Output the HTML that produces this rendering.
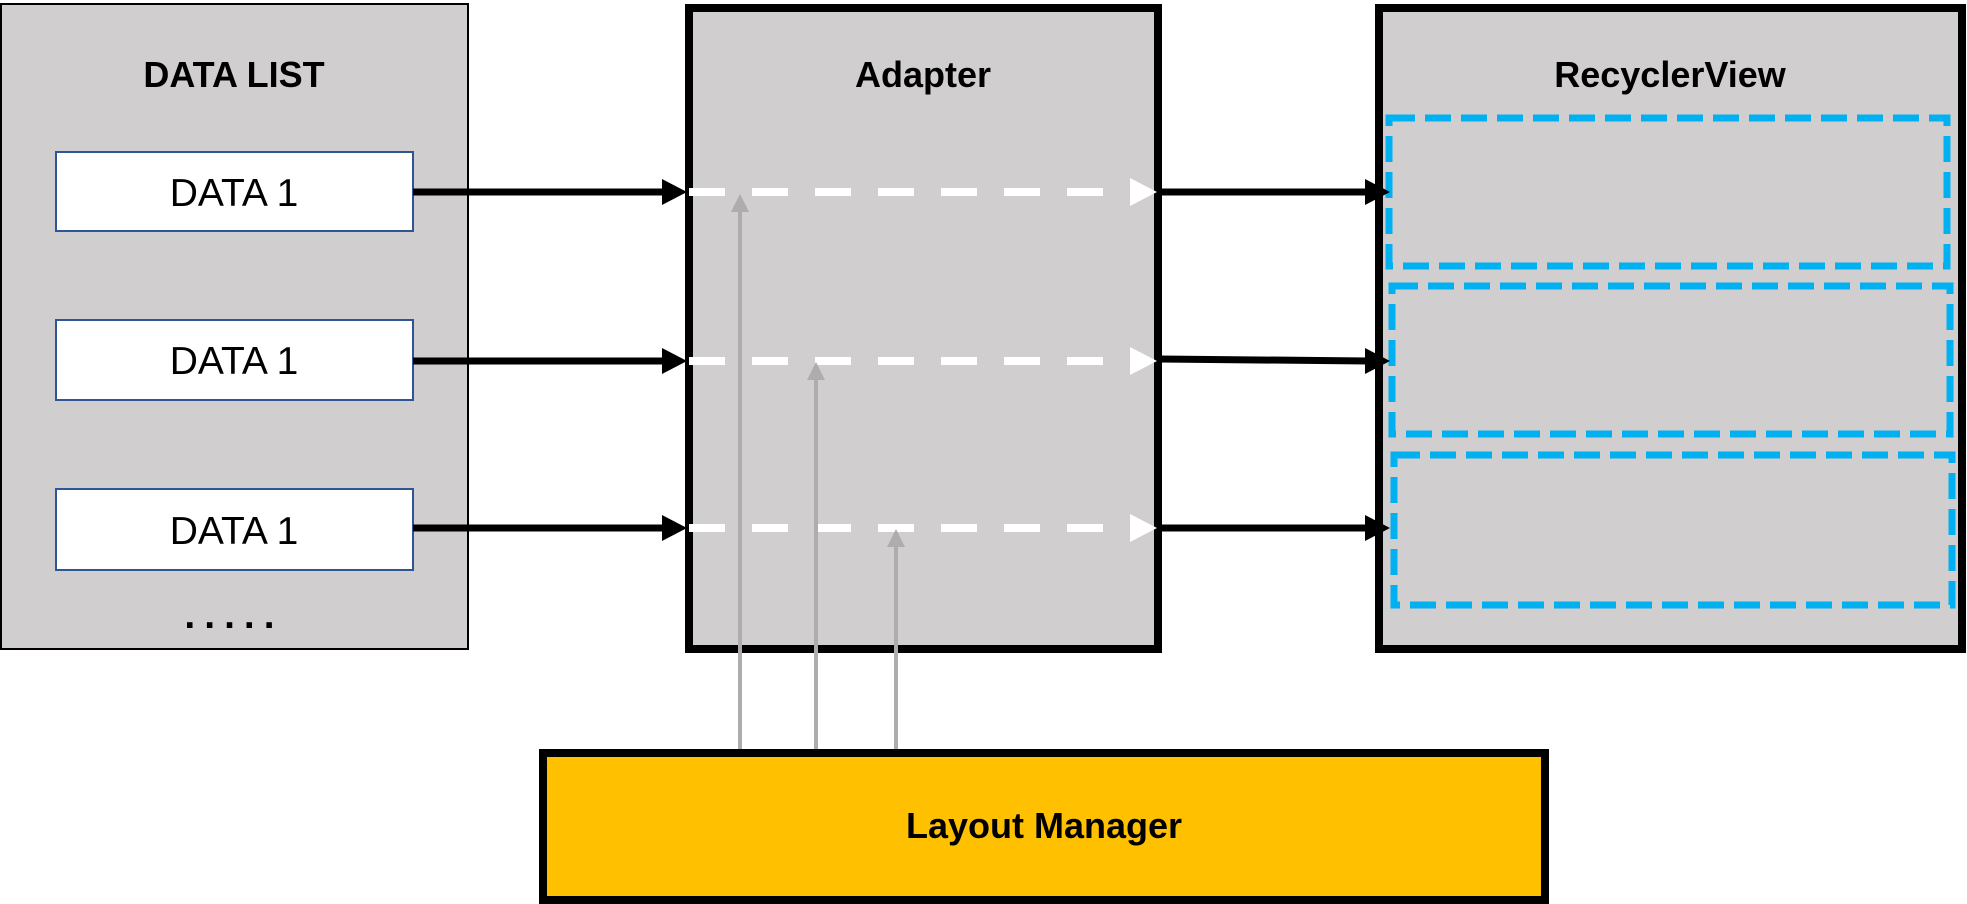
<!DOCTYPE html>
<html><head><meta charset="utf-8"><style>
html,body{margin:0;padding:0;background:#fff;}
body{width:1967px;height:904px;overflow:hidden;}
</style></head><body>
<svg width="1967" height="904" viewBox="0 0 1967 904" xmlns="http://www.w3.org/2000/svg" style="display:block">
<!-- DATA LIST -->
<rect x="1" y="4" width="467" height="645" fill="#D0CECE" stroke="#000" stroke-width="2"/>
<text x="234" y="87" font-family="Liberation Sans, sans-serif" font-weight="bold" font-size="36" text-anchor="middle">DATA LIST</text>
<g font-family="Liberation Sans, sans-serif" font-size="39" text-anchor="middle">
<rect x="56" y="152" width="357" height="79" fill="#fff" stroke="#2F5597" stroke-width="2"/>
<text x="234" y="206">DATA 1</text>
<rect x="56" y="320" width="357" height="80" fill="#fff" stroke="#2F5597" stroke-width="2"/>
<text x="234" y="374">DATA 1</text>
<rect x="56" y="489" width="357" height="81" fill="#fff" stroke="#2F5597" stroke-width="2"/>
<text x="234" y="544">DATA 1</text>
<text x="234" y="628" letter-spacing="9" font-weight="bold">.....</text>
</g>
<!-- Adapter -->
<rect x="689" y="8" width="469" height="641" fill="#D0CECE" stroke="#000" stroke-width="8"/>
<text x="923" y="87" font-family="Liberation Sans, sans-serif" font-weight="bold" font-size="36" text-anchor="middle">Adapter</text>
<!-- RecyclerView -->
<rect x="1379" y="8" width="583" height="641" fill="#D0CECE" stroke="#000" stroke-width="8"/>
<text x="1670" y="87" font-family="Liberation Sans, sans-serif" font-weight="bold" font-size="36" text-anchor="middle">RecyclerView</text>
<g fill="none" stroke="#00B0F0" stroke-width="7" stroke-dasharray="26,10">
<rect x="1389" y="118" width="558" height="148"/>
<rect x="1392" y="286" width="558" height="148"/>
<rect x="1394" y="455" width="558" height="150"/>
</g>
<!-- Layout Manager -->
<rect x="543" y="753" width="1002" height="147" fill="#FFC000" stroke="#000" stroke-width="8"/>
<text x="1044" y="838" font-family="Liberation Sans, sans-serif" font-weight="bold" font-size="36" text-anchor="middle">Layout Manager</text>
<g stroke="#000" stroke-width="7">
<line x1="413" y1="192" x2="665" y2="192"/>
<line x1="413" y1="361" x2="665" y2="361"/>
<line x1="413" y1="528" x2="665" y2="528"/>
<line x1="1160" y1="192" x2="1368" y2="192"/>
<line x1="1160" y1="359" x2="1368" y2="361"/>
<line x1="1160" y1="528" x2="1368" y2="528"/>
</g>
<g fill="#000">
<path d="M662,179 L687,192 L662,205z"/><path d="M662,348 L687,361 L662,374z"/><path d="M662,515 L687,528 L662,541z"/>
<path d="M1365,179 L1390,192 L1365,205z"/><path d="M1365,348 L1390,361 L1365,374z"/><path d="M1365,515 L1390,528 L1365,541z"/>
</g>
<g stroke="#fff" stroke-width="8" stroke-dasharray="36,27">
<line x1="689" y1="192" x2="1130" y2="192"/>
<line x1="689" y1="361" x2="1130" y2="361"/>
<line x1="689" y1="528" x2="1130" y2="528"/>
</g>
<g fill="#fff">
<path d="M1130,178 L1157,192 L1130,206z"/><path d="M1130,347 L1157,361 L1130,375z"/><path d="M1130,514 L1157,528 L1130,542z"/>
</g>
<g stroke="#AEACAC" stroke-width="4">
<line x1="740" y1="749" x2="740" y2="210"/>
<line x1="816" y1="749" x2="816" y2="378"/>
<line x1="896" y1="749" x2="896" y2="545"/>
</g>
<g fill="#AEACAC">
<path d="M731,212 L740,194 L749,212z"/><path d="M807,380 L816,362 L825,380z"/><path d="M887,547 L896,529 L905,547z"/>
</g>
</svg>
</body></html>
